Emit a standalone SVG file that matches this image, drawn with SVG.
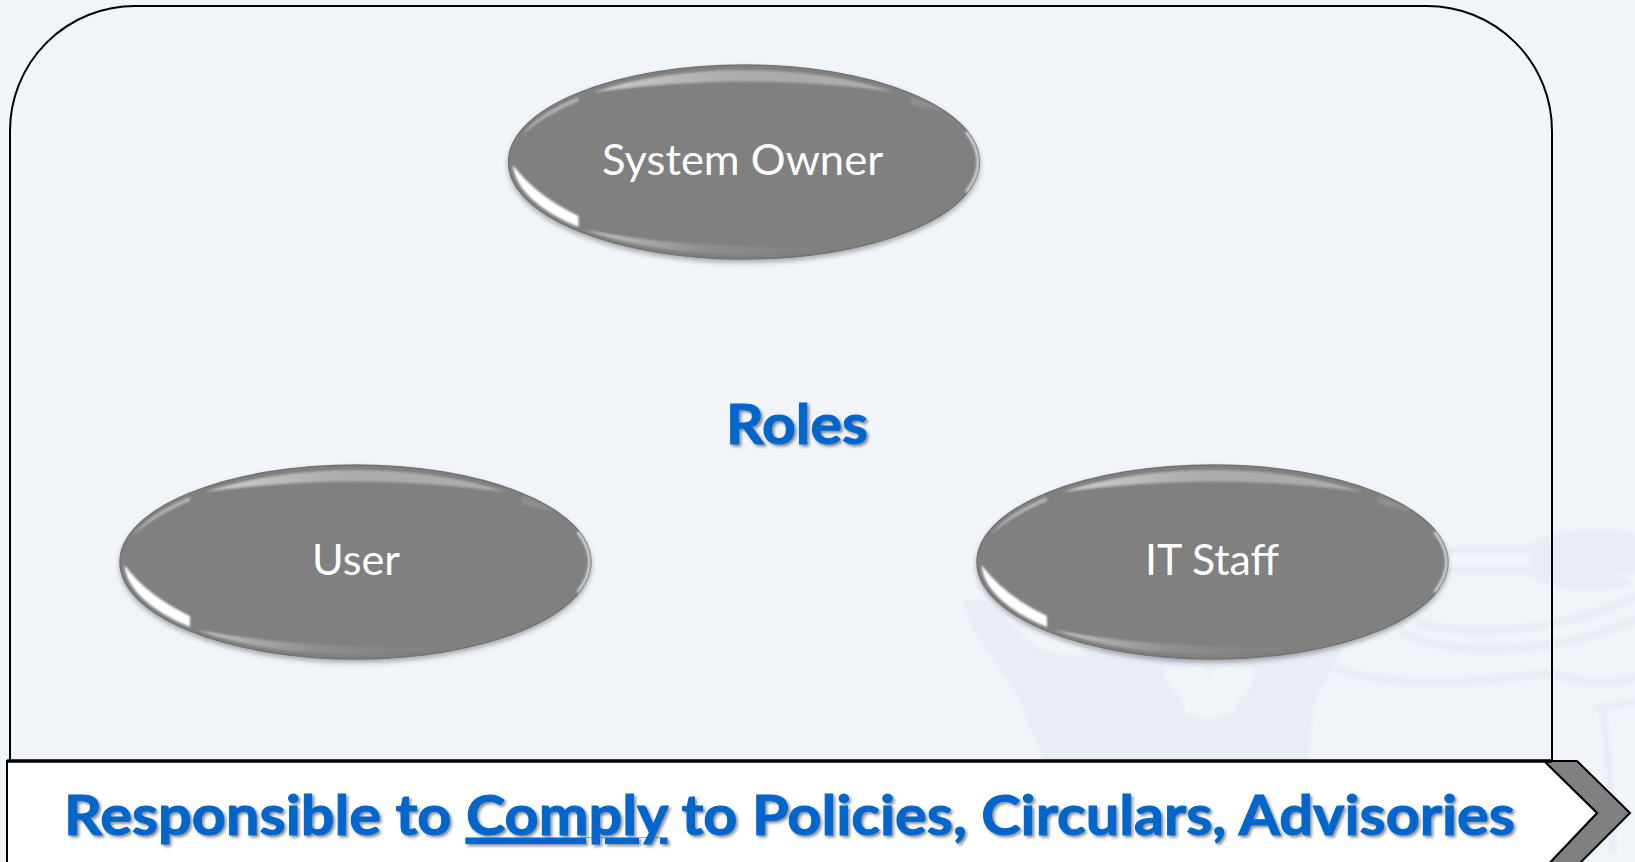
<svg xmlns="http://www.w3.org/2000/svg" width="1635" height="862" viewBox="0 0 1635 862">
<style>
.lbl{font-family:"Lato","Carlito","Noto Sans",sans-serif;font-size:42px;fill:#fff}
.hd{font-family:"Lato","Carlito","Noto Sans",sans-serif;font-size:56px;font-weight:700;fill:#0066cc;stroke:#0066cc;stroke-width:1;filter:url(#ts)}
.wm{fill:none;stroke:#e9edf6;stroke-linecap:round;stroke-linejoin:round}
.wf{fill:#e9edf6}
</style>
<defs>
<filter id="ts" x="-5%" y="-20%" width="110%" height="150%"><feDropShadow dx="2" dy="2" stdDeviation="1.4" flood-color="#000" flood-opacity=".45"/></filter>
<filter id="sh" x="-5%" y="-5%" width="110%" height="115%"><feDropShadow dx="0" dy="3" stdDeviation="2.5" flood-color="#000" flood-opacity=".3"/></filter>
<filter id="b1" x="-20%" y="-50%" width="140%" height="200%"><feGaussianBlur stdDeviation="1.1"/></filter>
<filter id="wb" x="-5%" y="-5%" width="110%" height="110%"><feGaussianBlur stdDeviation="1.5"/></filter>
<linearGradient id="fadeH"><stop offset="0" stop-color="#ddd" stop-opacity=".85"/><stop offset=".5" stop-color="#ccc" stop-opacity=".55"/><stop offset="1" stop-color="#ddd" stop-opacity=".5"/></linearGradient>
<linearGradient id="fadeB"><stop offset="0" stop-color="#ddd" stop-opacity=".8"/><stop offset=".5" stop-color="#aaa" stop-opacity=".3"/><stop offset="1" stop-color="#999" stop-opacity="0"/></linearGradient>
<g id="egg">
<ellipse rx="235.5" ry="97" fill="#808080" stroke="#737373" stroke-width="1.5" filter="url(#sh)"/>
<path d="M-231,3 A232,93 0 0 0 -165.5,65 L-165.5,54 Q-208,34 -231,3 Z" fill="#fff" filter="url(#b1)"/>
<path d="M-222,-27 A232,93 0 0 1 -165.5,-65 L-165.5,-61 Q-200,-47 -222,-27 Z" fill="#b5b5b5" filter="url(#b1)"/>
<path d="M-150,-70 A230,91 0 0 1 150,-70 Q0,-91 -150,-70 Z" fill="url(#fadeH)" filter="url(#b1)"/>
<path d="M-158,68 A230,92 0 0 0 100,83 Q-40,90 -158,68 Z" fill="url(#fadeB)" filter="url(#b1)"/>
<path d="M166,-66 A232,93 0 0 1 200,-50 L166,-58 Z" fill="#909090" filter="url(#b1)"/>
<path d="M222,-30 A233,95 0 0 1 222,30" fill="none" stroke="#dfe8ee" stroke-width="2.2" filter="url(#b1)"/>
</g>
</defs>
<rect id="background" width="1635" height="862" fill="#f1f5fa"/>
<g id="watermark" filter="url(#wb)">
<path class="wf" d="M1525,547 C1540,532 1590,526 1635,533 V585 C1590,594 1550,592 1525,573 L1530,565 V555 Z"/>
<path fill="#f1f5fa" d="M1617,573 L1635,574 V585 Z"/>
<path class="wm" stroke-width="8" d="M1453,550 H1525 M1453,570 H1525"/>
<path class="wm" stroke-width="9" d="M1420,623 C1470,638 1560,632 1635,597 M1403,633 C1460,660 1560,652 1635,620 M1340,670 C1400,688 1470,684 1550,673 C1570,680 1600,688 1635,678"/>
<path class="wf" d="M963,600 L985,600 L1040,650 L1083,657 L1110,740 L1112,762 H1043 L1020,700 L973,630 Z"/>
<path class="wf" d="M1083,650 H1343 L1315,700 L1308,762 H1100 Z"/>
<path fill="#f1f5fa" d="M1163,667 H1195 Q1208,667 1208,680 Q1210,667 1225,667 H1253 V680 Q1248,695 1238,700 L1235,710 Q1210,726 1185,712 L1180,695 Q1165,685 1163,667 Z"/>
<path class="wm" stroke-width="7" d="M1635,702 L1596,708 M1603,710 Q1610,760 1613,850"/>
</g>
<g id="frame">
<path d="M10,760 V131 A125,125 0 0 1 135,6 H1427 A125,125 0 0 1 1552,131 V760" fill="none" stroke="#000" stroke-width="2"/>
</g>
<g id="connectors"/>
<g id="system-owner"><use href="#egg" x="744" y="162"/><text class="lbl" x="602" y="175" textLength="281" lengthAdjust="spacingAndGlyphs">System Owner</text></g>
<g id="user"><use href="#egg" x="355.5" y="562"/><text class="lbl" x="312" y="575" textLength="88" lengthAdjust="spacingAndGlyphs">User</text></g>
<g id="it-staff"><use href="#egg" x="1212.5" y="562"/><text class="lbl" x="1145" y="575" textLength="134" lengthAdjust="spacingAndGlyphs">IT Staff</text></g>
<g id="roles"><text class="hd" x="726" y="444" textLength="142" lengthAdjust="spacingAndGlyphs">Roles</text></g>
<g id="banner">
<path d="M1544,761 H1577 L1630,813 L1570,873 H1540 L1597,813 Z" fill="#808080" stroke="#000" stroke-width="2"/>
<path d="M7,761 H1544 L1597,813 L1540,873 H7 Z" fill="#fff" stroke="#000" stroke-width="2"/>
<path d="M7,761 H1552" stroke="#000" stroke-width="3.5" fill="none"/>
<text class="hd" x="64" y="835" textLength="1451" lengthAdjust="spacingAndGlyphs">Responsible to <tspan style="text-decoration:underline;text-decoration-thickness:4px;text-underline-offset:6px;text-decoration-skip-ink:none">Comply</tspan> to Policies, Circulars, Advisories</text>
</g>
</svg>
